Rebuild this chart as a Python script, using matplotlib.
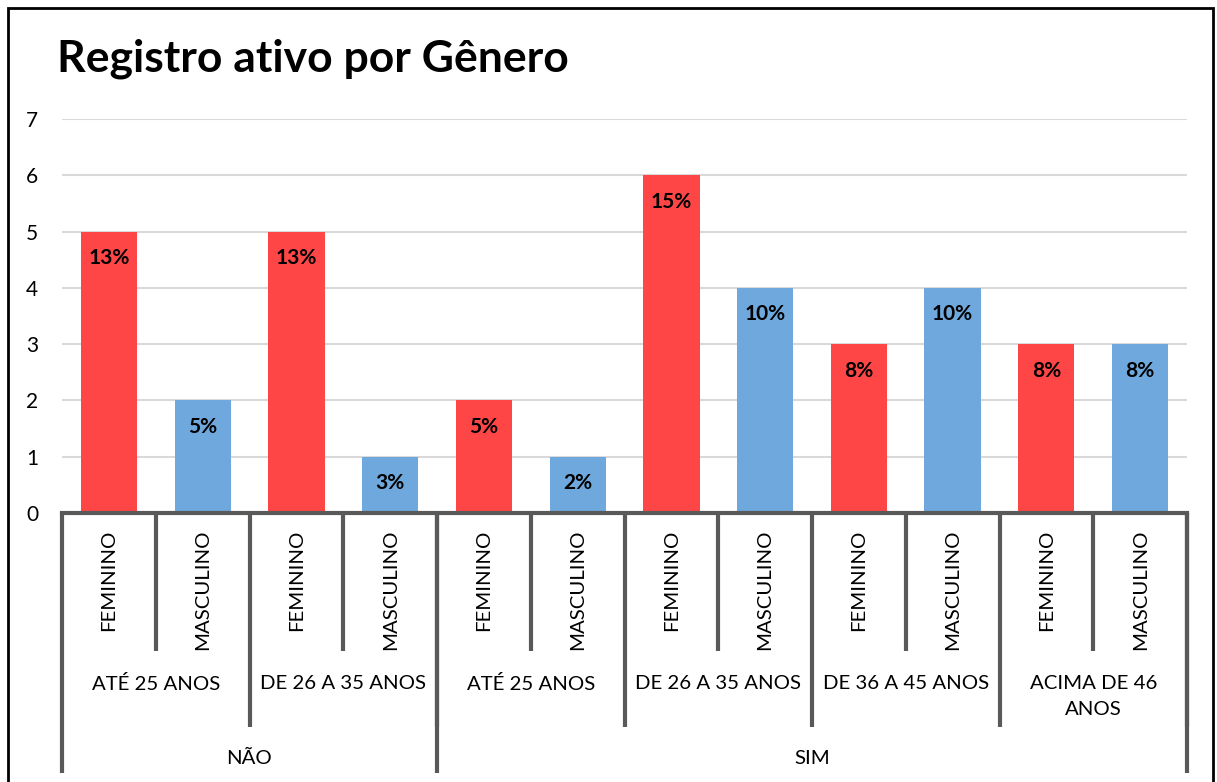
import numpy as np
import matplotlib.pyplot as plt
from matplotlib.patches import Rectangle

plt.rcParams['font.family'] = ['Lato', 'DejaVu Sans']

# dados
genero = ["FEMININO", "MASCULINO"] * 6
faixa = ["ATÉ 25 ANOS", "DE 26 A 35 ANOS", "ATÉ 25 ANOS",
         "DE 26 A 35 ANOS", "DE 36 A 45 ANOS", "ACIMA DE 46\nANOS"]
faixa_n = [2, 2, 2, 2, 2, 2]   # generos por faixa
grupo = ["NÃO", "SIM"]
grupo_n = [2, 4]               # faixas por grupo
valores = [5, 2, 5, 1, 2, 1, 6, 4, 3, 4, 3, 3]
rotulos = ["13%", "5%", "13%", "3%", "5%", "2%", "15%", "10%", "8%", "10%", "8%", "8%"]

cor_f = '#FF4646'
cor_m = '#6FA8DC'
cor_eixo = '#595959'

fig = plt.figure(figsize=(12.17, 7.82), dpi=100)
ax = fig.add_axes([62/1217, (782-513)/782, (1187-62)/1217, 394/782])

x = np.arange(len(valores))
cores = [cor_f if g == "FEMININO" else cor_m for g in genero]
ax.bar(x, valores, width=0.6, color=cores, zorder=2)

for xi, v, r in zip(x, valores, rotulos):
    ax.annotate(r, (xi, v), xytext=(0, -19), textcoords='offset points',
                ha='center', va='center', fontsize=15, fontweight='bold', color='black')

ax.set_xlim(-0.5, len(valores) - 0.5)
ax.set_ylim(0, 7)
ax.set_yticks(range(0, 8))
ax.tick_params(axis='y', length=0, labelsize=15, pad=17)
ax.set_xticks([])
ax.grid(axis='y', color='#D9D9D9', linewidth=1.5, zorder=0)
for s in ['top', 'right', 'left']:
    ax.spines[s].set_visible(False)
ax.spines['bottom'].set_color(cor_eixo)
ax.spines['bottom'].set_linewidth(3)

# eixo categorico hierarquico
tr = ax.get_xaxis_transform()
y_gen = -0.350
y_faixa = -0.543
y_grupo = -0.660


def vline(xp, y1):
    ax.plot([xp, xp], [0, y1], transform=tr, color=cor_eixo, lw=3, clip_on=False,
            solid_capstyle='butt')


for i, g in enumerate(genero):
    ax.text(i, -0.043, g, transform=tr, rotation=90, ha='center', va='top', fontsize=14.7)
for i in range(1, len(genero), 2):
    vline(i - 0.5, y_gen)

pos = -0.5
for f, n in zip(faixa, faixa_n):
    ax.text(pos + n / 2, -0.410, f, transform=tr, ha='center', va='top', fontsize=14.7,
            linespacing=1.65)
    pos += n
    vline(pos, y_faixa)

# grupos NÃO / SIM
inicio = -0.5
vline(inicio, y_grupo)
k = 0
for g, n in zip(grupo, grupo_n):
    largura = sum(faixa_n[k:k + n])
    ax.text(inicio + largura / 2, -0.622, g, transform=tr, ha='center', va='center', fontsize=14.7)
    inicio += largura
    k += n
    vline(inicio, y_grupo)

fig.text(57/1217, 1 - 59/782, "Registro ativo por Gênero", fontsize=32, fontweight='bold',
         ha='left', va='center')

fig.patches.append(Rectangle((8/1217, -0.05), (1213-8)/1217, 1.05 - 8/782, transform=fig.transFigure,
                             fill=False, edgecolor='black', lw=2))

fig.savefig('out.png', dpi=100)
